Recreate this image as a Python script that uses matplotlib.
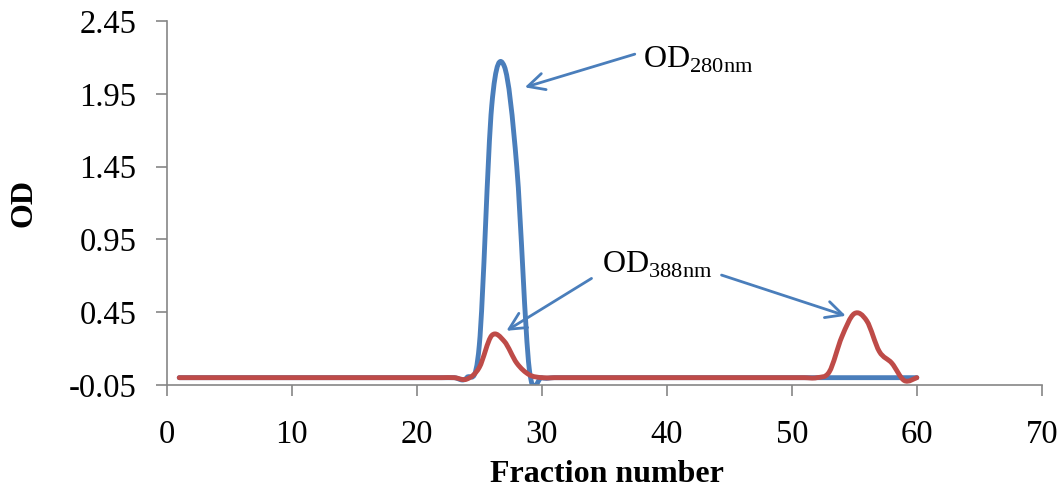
import numpy as np
import matplotlib
matplotlib.use('Agg')
import matplotlib.pyplot as plt
from matplotlib.path import Path
from matplotlib.patches import PathPatch

plt.rcParams['font.family'] = 'Liberation Serif'
plt.rcParams['mathtext.fontset'] = 'custom'
plt.rcParams['mathtext.rm'] = 'Liberation Serif'

# Fraction numbers and absorbance readings
fractions = list(range(1, 61))
od280 = [0, 0, 0, 0, 0, 0, 0, 0, 0, 0,
         0, 0, 0, 0, 0, 0, 0, 0, 0, 0,
         0, 0, 0, 0, 0.22, 1.87, 2.14, 1.45, 0.06, 0,
         0, 0, 0, 0, 0, 0, 0, 0, 0, 0,
         0, 0, 0, 0, 0, 0, 0, 0, 0, 0,
         0, 0, 0, 0, 0, 0, 0, 0, 0, 0]
od388 = [0, 0, 0, 0, 0, 0, 0, 0, 0, 0,
         0, 0, 0, 0, 0, 0, 0, 0, 0, 0,
         0, 0, 0, -0.01, 0.07, 0.29, 0.25, 0.1, 0.02, 0,
         0, 0, 0, 0, 0, 0, 0, 0, 0, 0,
         0, 0, 0, 0, 0, 0, 0, 0, 0, 0,
         0, 0, 0.04, 0.28, 0.44, 0.39, 0.18, 0.1, -0.02, 0]

x_ticks = [0, 10, 20, 30, 40, 50, 60, 70]
y_ticks = [-0.05, 0.45, 0.95, 1.45, 1.95, 2.45]

blue = '#4a7ebb'
red = '#be4b48'
grey = '#868686'


def smooth_path(x, y):
    # Excel-style smoothed line: cubic Bezier segments through every point
    x = np.asarray(x, float)
    y = np.asarray(y, float)
    n = len(x)
    verts = [(x[0], y[0])]
    codes = [Path.MOVETO]
    for i in range(n - 1):
        p0 = i - 1 if i > 0 else i
        p3 = i + 2 if i + 2 < n else i + 1
        c1 = (x[i] + (x[i + 1] - x[p0]) / 6, y[i] + (y[i + 1] - y[p0]) / 6)
        c2 = (x[i + 1] - (x[p3] - x[i]) / 6, y[i + 1] - (y[p3] - y[i]) / 6)
        verts += [c1, c2, (x[i + 1], y[i + 1])]
        codes += [Path.CURVE4] * 3
    return Path(verts, codes)


fig = plt.figure(figsize=(10.62, 4.91), dpi=100)
ax = fig.add_axes([0.157, 0.216, 0.824, 0.741])

for vals, col in [(od280, blue), (od388, red)]:
    patch = PathPatch(smooth_path(fractions, vals), facecolor='none',
                      edgecolor=col, lw=3.5, capstyle='round', joinstyle='round')
    ax.add_patch(patch)

ax.set_xlim(0, 70)
ax.set_ylim(-0.05, 2.45)
ax.set_xticks(x_ticks)
ax.set_yticks(y_ticks)
ax.set_yticklabels(['%.2f' % v for v in y_ticks])

for s in ['top', 'right']:
    ax.spines[s].set_visible(False)
for s in ['left', 'bottom']:
    ax.spines[s].set_color(grey)
    ax.spines[s].set_linewidth(1.2)
ax.tick_params(axis='both', color=grey, width=1.2, length=8, labelsize=23.5,
               labelcolor='black')
ax.tick_params(axis='x', pad=17)
ax.tick_params(axis='y', pad=14)

ax.set_xlabel('Fraction number', fontsize=23, fontweight='bold')
ax.set_ylabel('OD', fontsize=23, fontweight='bold')
ax.xaxis.set_label_coords(0.503, -0.205)
ax.yaxis.set_label_coords(-0.147, 0.5)

arrow = dict(arrowstyle='->', color=blue, lw=2, mutation_scale=30,
             shrinkA=0, shrinkB=0)
ax.annotate('', xy=(28.64, 1.995), xytext=(37.44, 2.223), arrowprops=arrow)
ax.annotate('', xy=(27.17, 0.322), xytext=(33.98, 0.682), arrowprops=arrow)
ax.annotate('', xy=(54.32, 0.425), xytext=(44.38, 0.705), arrowprops=arrow)

ax.text(38.08, 2.133, r'OD$_{\mathrm{280nm}}$', fontsize=23,
        ha='left', va='baseline')
ax.text(34.78, 0.723, r'OD$_{\mathrm{388nm}}$', fontsize=23,
        ha='left', va='baseline')

fig.savefig('out.png', dpi=100)
